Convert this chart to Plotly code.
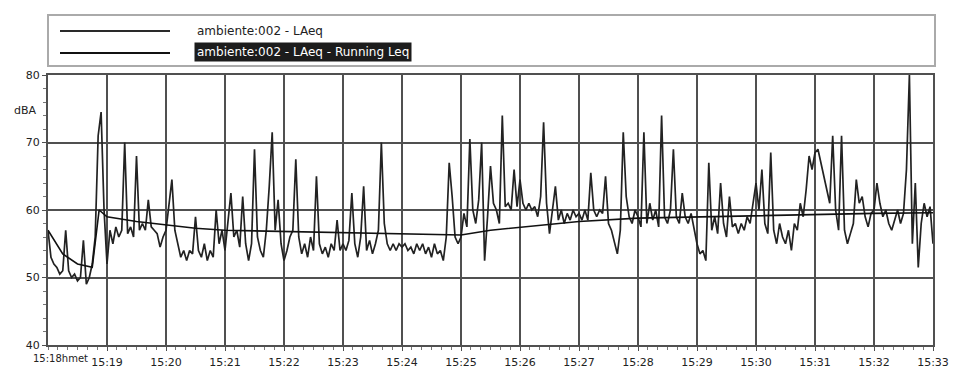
import plotly.graph_objects as go

# ---- data ----
# LAeq sampled every 3 s from 15:18:00 to 15:33:00 (seconds since 15:18:00)
SAMPLE_STEP_S = 3
LAEQ = [
    # 15:18
    57, 53, 52, 51.5, 50.5, 51, 57, 51, 50, 50.5, 49.5, 50, 55.5, 49, 50, 52, 56, 71, 74.5, 60,
    # 15:19
    52, 57, 55, 57.5, 56, 57, 70, 56.5, 57.5, 56, 68, 57, 58, 57, 61.5, 57.5, 57, 56.5, 54.5, 56,
    # 15:20
    57, 61, 64.5, 57, 55, 53, 54, 52.5, 54, 53.5, 59, 54, 53, 55, 52.5, 54, 53, 60, 55, 57,
    # 15:21
    54, 58, 62.5, 56, 57, 54.5, 62, 55, 52.5, 55, 69, 56, 54, 53, 57, 63.5, 71.5, 57, 61.5, 55,
    # 15:22
    52.5, 54, 56, 57, 67.5, 56, 53.5, 55, 53, 56, 54, 65, 55, 53.5, 54.5, 53, 55, 54, 58.5, 54,
    # 15:23
    55, 54, 55.5, 62.5, 55, 53, 56, 63.5, 54, 55.5, 53.5, 55, 57, 70, 58, 55, 54, 55, 54, 55,
    # 15:24
    54.5, 55, 54, 54.5, 53.5, 55, 54, 55, 53.5, 54.5, 53, 55, 53.5, 54, 52.5, 56, 67, 62, 56, 55,
    # 15:25
    56, 59.5, 57.5, 70.5, 60, 58, 61.5, 70, 52.5, 59, 66.5, 61, 60, 58, 74, 60.5, 61, 60, 66, 60.5,
    # 15:26
    64.5, 61, 60, 61, 60, 60.5, 59, 62, 73, 61, 56.5, 60, 63.5, 58.5, 60, 58, 59.5, 58.5, 60, 59,
    # 15:27
    59.5, 58.5, 60, 58.5, 65.5, 60, 59, 60, 59.5, 65, 58, 57, 55, 53.5, 57, 71.5, 62, 59, 58, 60,
    # 15:28
    59, 57.5, 71.5, 58, 61, 58.5, 60, 57.5, 74, 59, 58, 60, 69, 59, 58, 62.5, 59, 58, 59.5, 57,
    # 15:29
    55, 53.5, 54, 52.5, 67, 57, 59, 56.5, 64, 58, 56, 62, 57.5, 58, 56.5, 58, 57, 59, 58, 61,
    # 15:30
    64, 60, 66, 58, 56.5, 68.5, 57, 55, 58, 56, 55, 57, 54, 58, 57, 61, 59, 63, 68, 66,
    # 15:31
    68.5, 69, 67, 65, 62.5, 61, 71, 60, 57, 71, 57, 55, 56.5, 58, 64.5, 61, 62, 59, 57.5, 59.5,
    # 15:32
    60, 64, 61, 59, 60, 58, 57, 58.5, 60, 58, 59.5, 66, 80, 55, 64, 51.5, 58, 61, 59, 60.5,
    # 15:33
    55,
]
LAEQ_T = [i * SAMPLE_STEP_S for i in range(len(LAEQ))]

# Running Leq read at key times
RUN_T = [0, 15, 30, 45, 52, 60, 90, 120, 150, 180, 240, 300, 360, 420, 450, 480,
         510, 540, 600, 660, 720, 780, 840, 900]
RUN_V = [57, 53.5, 52, 51.5, 60, 59, 58.3, 57.8, 57.3, 57, 56.8, 56.6, 56.4, 56.3, 57, 57.4,
         57.9, 58.3, 58.8, 59, 59.1, 59.3, 59.5, 59.6]

X_TICK_VALS = [60, 120, 180, 240, 300, 360, 420, 480, 540, 600, 660, 720, 780, 840, 900]
X_TICK_TEXT = ["15:19", "15:20", "15:21", "15:22", "15:23", "15:24", "15:25", "15:26",
               "15:27", "15:28", "15:29", "15:30", "15:31", "15:32", "15:33"]
FIRST_LABEL = "15:18hmet"
Y_TICK_VALS = [40, 50, 60, 70, 80]
Y_UNIT = "dBA"
SERIES_NAMES = ["ambiente:002 - LAeq", "ambiente:002 - LAeq - Running Leq"]

# ---- figure ----
W, H = 953, 369
L, R, T, B = 48, 20, 75, 24
PW, PH = W - L - R, H - T - B


def px(xp):
    return (xp - L) / PW


def py(yp):
    return (H - B - yp) / PH


FONT = "DejaVu Sans"
GRID = "#505050"

fig = go.Figure()
fig.add_trace(go.Scatter(x=LAEQ_T, y=LAEQ, mode="lines",
                         line=dict(color="#222222", width=1.7), showlegend=False,
                         name=SERIES_NAMES[0]))
fig.add_trace(go.Scatter(x=RUN_T, y=RUN_V, mode="lines",
                         line=dict(color="#111111", width=1.6), showlegend=False,
                         name=SERIES_NAMES[1]))

fig.update_layout(
    width=W, height=H, autosize=False,
    margin=dict(l=L, r=R, t=T, b=B, pad=0),
    paper_bgcolor="white", plot_bgcolor="white",
    font=dict(family=FONT, size=11, color="#222"),
    xaxis=dict(range=[0, 900], tickmode="array", tickvals=X_TICK_VALS, ticktext=X_TICK_TEXT,
               showgrid=True, gridcolor=GRID, gridwidth=2, zeroline=False,
               showline=True, linecolor=GRID, linewidth=2, mirror=True,
               ticks="outside", ticklen=4, tickcolor=GRID, tickwidth=1,
               ticklabelstandoff=2, automargin=False,
               minor=dict(tickmode="linear", tick0=0, dtick=10, ticks="outside",
                          ticklen=3, tickcolor="#777", showgrid=False),
               tickfont=dict(size=11, family=FONT, color="#222")),
    yaxis=dict(range=[40, 80], tickmode="array", tickvals=Y_TICK_VALS,
               showgrid=True, gridcolor=GRID, gridwidth=2, zeroline=False,
               showline=True, linecolor=GRID, linewidth=2, mirror=True,
               ticks="outside", ticklen=4, tickcolor=GRID, tickwidth=1, automargin=False,
               minor=dict(tickmode="linear", tick0=40, dtick=2, ticks="outside",
                          ticklen=3, tickcolor="#777", showgrid=False),
               tickfont=dict(size=11, family=FONT, color="#222")),
)

shapes = [
    dict(type="rect", xref="paper", yref="paper", x0=px(48), x1=px(935), y0=py(66), y1=py(15),
         line=dict(color="#aaaaaa", width=2), fillcolor="rgba(0,0,0,0)"),
    dict(type="line", xref="paper", yref="paper", x0=px(60), x1=px(170), y0=py(31), y1=py(31),
         line=dict(color="#2a2a2a", width=2)),
    dict(type="line", xref="paper", yref="paper", x0=px(60), x1=px(170), y0=py(53), y1=py(53),
         line=dict(color="#111111", width=2)),
]
annotations = [
    dict(xref="paper", yref="paper", x=px(195), y=py(31), xanchor="left", yanchor="middle",
         text=SERIES_NAMES[0], showarrow=False, font=dict(size=12, family=FONT, color="#222")),
    dict(xref="paper", yref="paper", x=px(194), y=py(52), xanchor="left", yanchor="middle",
         text=SERIES_NAMES[1], showarrow=False, bgcolor="#1c1c1c", borderpad=2,
         font=dict(size=12, family=FONT, color="white")),
    dict(xref="paper", yref="y", x=px(39), y=74.7, xanchor="right", yanchor="middle",
         text=Y_UNIT, showarrow=False, font=dict(size=11, family=FONT, color="#222")),
    dict(xref="paper", yref="paper", x=px(31), y=py(358), xanchor="left", yanchor="middle",
         text=FIRST_LABEL, showarrow=False, font=dict(size=10, family=FONT, color="#222")),
]
fig.update_layout(shapes=shapes, annotations=annotations)

fig.write_html("out.html", config={"displayModeBar": False},
               post_script="document.body.style.margin='0';")
